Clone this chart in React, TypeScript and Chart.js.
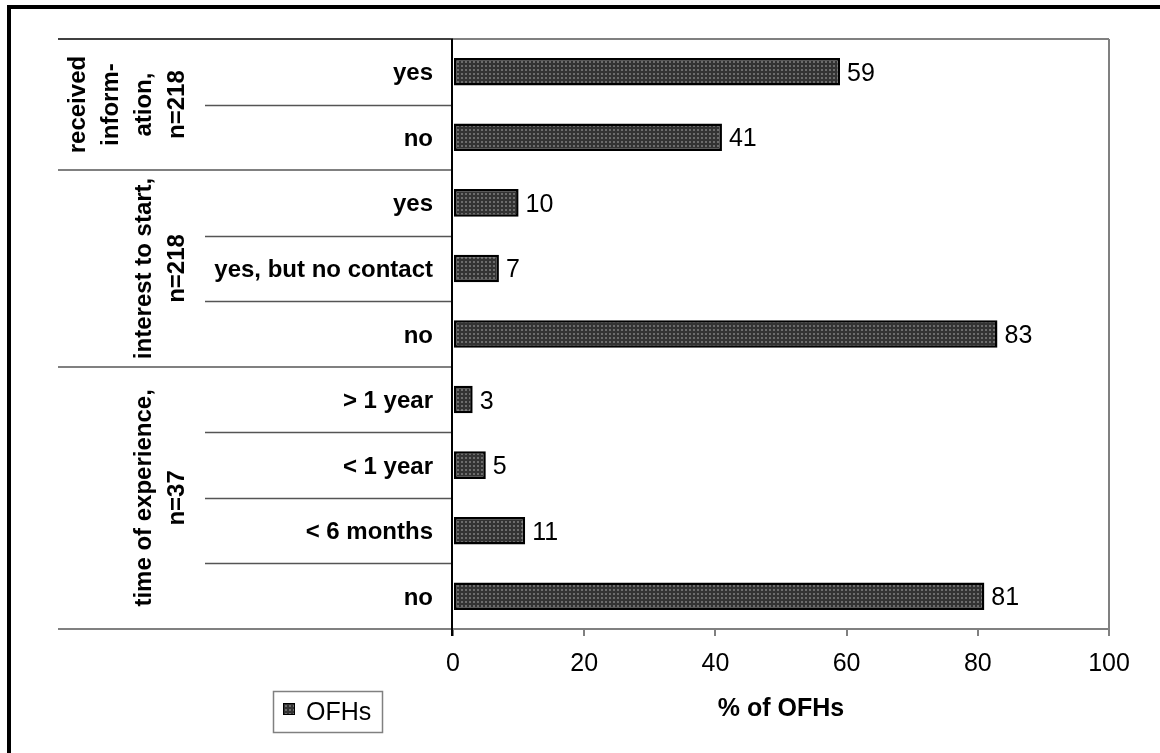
import React, { useEffect, useRef } from 'react';
import { Chart, registerables } from 'chart.js';

Chart.register(...registerables);

// ---- data ----
const categories = ['yes', 'no', 'yes', 'yes, but no contact', 'no', '> 1 year', '< 1 year', '< 6 months', 'no'];
const values = [59, 41, 10, 7, 83, 3, 5, 11, 81];
const groupLines = [
  ['received', 'inform-', 'ation,', 'n=218'],
  ['interest to start,', 'n=218'],
  ['time of experience,', 'n=37'],
];
const groupSizes = [2, 3, 4];
const seriesLabel = 'OFHs';
const axisTitle = '% of OFHs';
const xMin = 0;
const xMax = 100;
const xStep = 20;

const FONT = '"Liberation Sans", Arial, Helvetica, sans-serif';

function makePattern(ctx: CanvasRenderingContext2D) {
  const c = document.createElement('canvas');
  c.width = 4;
  c.height = 4;
  const p = c.getContext('2d') as CanvasRenderingContext2D;
  p.fillStyle = '#333333';
  p.fillRect(0, 0, 4, 4);
  p.fillStyle = '#6c6c6c';
  p.fillRect(1, 1, 2, 2);
  return ctx.createPattern(c, 'repeat') as CanvasPattern;
}

const decor = {
  id: 'decor',
  beforeDraw(chart: any) {
    const ctx = chart.ctx as CanvasRenderingContext2D;
    const { left, right, top, bottom } = chart.chartArea;
    ctx.save();
    ctx.fillStyle = '#fff';
    ctx.fillRect(0, 0, chart.width, chart.height);
    // outer frame (left + top)
    ctx.fillStyle = '#000';
    ctx.fillRect(7, 5, 4, chart.height - 5);
    ctx.fillRect(7, 5, chart.width - 7, 4);
    // plot frame top & right
    ctx.strokeStyle = '#808080';
    ctx.lineWidth = 2;
    ctx.beginPath();
    ctx.moveTo(left, top);
    ctx.lineTo(right, top);
    ctx.moveTo(right, top);
    ctx.lineTo(right, bottom);
    ctx.stroke();
    ctx.restore();
  },
  afterDraw(chart: any) {
    const ctx = chart.ctx as CanvasRenderingContext2D;
    const { left, right, top, bottom } = chart.chartArea;
    const yScale = chart.scales.y;
    const n = categories.length;
    const rowY = (i: number) => yScale.getPixelForValue(i);
    const boundary = (i: number) => {
      if (i <= 0) return top;
      if (i >= n) return bottom;
      return (rowY(i - 1) + rowY(i)) / 2;
    };
    ctx.save();
    const groupStarts: number[] = [];
    let acc = 0;
    for (const s of groupSizes) {
      groupStarts.push(acc);
      acc += s;
    }
    // inner separators
    ctx.strokeStyle = '#555';
    ctx.lineWidth = 1.5;
    ctx.beginPath();
    groupStarts.forEach((g, gi) => {
      for (let k = 1; k < groupSizes[gi]; k++) {
        const y = Math.round(boundary(g + k)) + 0.5;
        ctx.moveTo(205, y);
        ctx.lineTo(left, y);
      }
    });
    ctx.stroke();
    // group separators
    ctx.strokeStyle = '#808080';
    ctx.lineWidth = 2;
    ctx.beginPath();
    groupStarts.forEach((g) => {
      if (g === 0) return;
      const y = Math.round(boundary(g));
      ctx.moveTo(58, y);
      ctx.lineTo(left, y);
    });
    ctx.moveTo(58, bottom);
    ctx.lineTo(right, bottom);
    ctx.stroke();
    // top left line
    ctx.strokeStyle = '#000';
    ctx.lineWidth = 1.5;
    ctx.beginPath();
    ctx.moveTo(58, top);
    ctx.lineTo(left, top);
    ctx.stroke();
    // value axis line (vertical)
    ctx.strokeStyle = '#000';
    ctx.lineWidth = 2;
    ctx.beginPath();
    ctx.moveTo(left - 1, top);
    ctx.lineTo(left - 1, bottom + 7);
    ctx.stroke();

    ctx.fillStyle = '#000';
    // category labels
    ctx.font = `bold 24px ${FONT}`;
    ctx.textAlign = 'right';
    ctx.textBaseline = 'alphabetic';
    categories.forEach((c, i) => {
      ctx.fillText(c, 433, rowY(i) + 8.5);
    });
    // group labels (rotated)
    groupStarts.forEach((g, gi) => {
      const y0 = boundary(g);
      const y1 = boundary(g + groupSizes[gi]);
      const cy = (y0 + y1) / 2;
      const lines = groupLines[gi];
      lines.forEach((ln, k) => {
        const bx = 184 - (lines.length - 1 - k) * 33;
        ctx.save();
        ctx.translate(bx, cy);
        ctx.rotate(-Math.PI / 2);
        ctx.textAlign = 'center';
        ctx.textBaseline = 'alphabetic';
        ctx.fillText(ln, 0, 0);
        ctx.restore();
      });
    });
    // value labels
    ctx.font = `25px ${FONT}`;
    ctx.textAlign = 'left';
    const meta = chart.getDatasetMeta(0);
    meta.data.forEach((bar: any, i: number) => {
      ctx.fillText(String(values[i]), bar.x + 7, bar.y + 9);
    });
    // axis title
    ctx.font = `bold 25px ${FONT}`;
    ctx.textAlign = 'center';
    ctx.fillText(axisTitle, (left + right) / 2, 716);
    // legend
    ctx.strokeStyle = '#808080';
    ctx.lineWidth = 1.5;
    ctx.strokeRect(273.5, 691.5, 109, 41);
    const ds = chart.data.datasets[0];
    ctx.fillStyle = ds.backgroundColor;
    ctx.fillRect(283, 703, 12, 12);
    ctx.strokeStyle = '#000';
    ctx.lineWidth = 1;
    ctx.strokeRect(283.5, 703.5, 11, 11);
    ctx.fillStyle = '#000';
    ctx.font = `25px ${FONT}`;
    ctx.textAlign = 'left';
    ctx.fillText(ds.label, 306, 720);
    ctx.restore();
  },
};

export default function App() {
  const ref = useRef<HTMLCanvasElement | null>(null);
  useEffect(() => {
    const canvas = ref.current;
    if (!canvas) return;
    const ctx = canvas.getContext('2d') as CanvasRenderingContext2D;
    const pattern = makePattern(ctx);
    const chart = new Chart(canvas, {
      type: 'bar',
      data: {
        labels: categories,
        datasets: [
          {
            label: seriesLabel,
            data: values,
            backgroundColor: pattern as any,
            borderColor: '#000',
            borderWidth: 2.5,
            borderSkipped: false,
            barPercentage: 0.84,
            categoryPercentage: 0.5,
          },
        ],
      },
      options: {
        indexAxis: 'y',
        responsive: false,
        animation: false,
        devicePixelRatio: 1,
        layout: { padding: { left: 0, top: 39, right: 51, bottom: 0 } },
        plugins: { legend: { display: false }, tooltip: { enabled: false } },
        scales: {
          x: {
            min: xMin,
            max: xMax,
            ticks: { stepSize: xStep, color: '#000', font: { family: FONT, size: 25 }, padding: 13 },
            grid: { drawOnChartArea: false, drawTicks: true, tickLength: 7, color: '#808080', lineWidth: 2 },
            border: { display: false },
            afterFit: (s: any) => {
              s.height = 124;
            },
          },
          y: {
            ticks: { display: false },
            grid: { display: false },
            border: { display: false },
            afterFit: (s: any) => {
              s.width = 453;
            },
          },
        },
      },
      plugins: [decor],
    } as any);
    return () => chart.destroy();
  }, []);
  return (
    <div style={{ position: 'absolute', left: 0, top: 0, width: 1160, height: 753, background: '#fff' }}>
      <canvas ref={ref} width={1160} height={753} style={{ display: 'block' }} />
    </div>
  );
}
